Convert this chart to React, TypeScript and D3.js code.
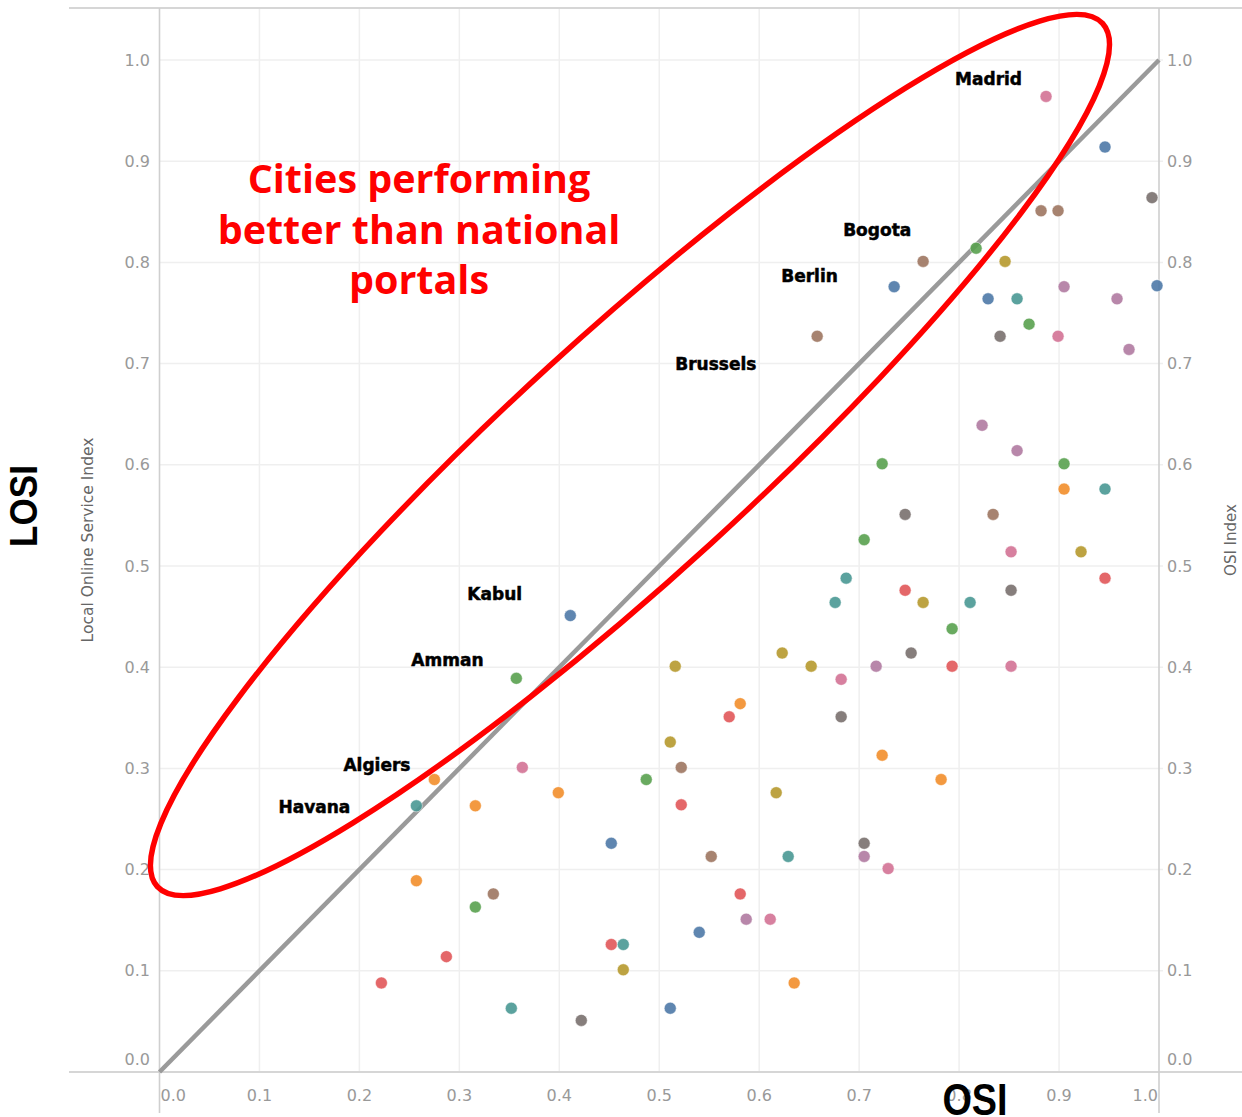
import React from "react";
import * as d3 from "d3";

// ---- data (OSI = x, LOSI = y) ----
const osiValues = [
  0.887, 0.946, 0.993, 0.882, 0.899, 0.817, 0.764, 0.846, 0.735, 0.829,
  0.858, 0.905, 0.958, 0.998, 0.870, 0.658, 0.841, 0.899, 0.970, 0.823,
  0.858, 0.723, 0.905, 0.905, 0.946, 0.746, 0.834, 0.705, 0.852, 0.922,
  0.687, 0.946, 0.411, 0.676, 0.746, 0.764, 0.811, 0.852, 0.793, 0.357,
  0.516, 0.623, 0.652, 0.717, 0.752, 0.793, 0.852, 0.682, 0.581, 0.570,
  0.682, 0.511, 0.723, 0.275, 0.363, 0.522, 0.487, 0.782, 0.399, 0.617,
  0.257, 0.316, 0.522, 0.452, 0.552, 0.629, 0.705, 0.705, 0.729, 0.257,
  0.334, 0.316, 0.581, 0.587, 0.611, 0.540, 0.452, 0.464, 0.287, 0.464,
  0.222, 0.635, 0.352, 0.511, 0.422,
];
const losiValues = [
  0.964, 0.914, 0.864, 0.851, 0.851, 0.814, 0.801, 0.801, 0.776, 0.764,
  0.764, 0.776, 0.764, 0.777, 0.739, 0.727, 0.727, 0.727, 0.714, 0.639,
  0.614, 0.601, 0.601, 0.576, 0.576, 0.551, 0.551, 0.526, 0.514, 0.514,
  0.488, 0.488, 0.451, 0.464, 0.476, 0.464, 0.464, 0.476, 0.438, 0.389,
  0.401, 0.414, 0.401, 0.401, 0.414, 0.401, 0.401, 0.388, 0.364, 0.351,
  0.351, 0.326, 0.313, 0.289, 0.301, 0.301, 0.289, 0.289, 0.276, 0.276,
  0.263, 0.263, 0.264, 0.226, 0.213, 0.213, 0.226, 0.213, 0.201, 0.189,
  0.176, 0.163, 0.176, 0.151, 0.151, 0.138, 0.126, 0.126, 0.114, 0.101,
  0.088, 0.088, 0.063, 0.063, 0.051,
];
const colorGroups = [
  "pink", "blue", "gray", "brown", "brown", "green", "brown", "olive", "blue", "blue",
  "teal", "purple", "purple", "blue", "green", "brown", "gray", "pink", "purple", "purple",
  "purple", "green", "green", "orange", "teal", "gray", "brown", "green", "pink", "olive",
  "teal", "red", "blue", "teal", "red", "olive", "teal", "gray", "green", "green",
  "olive", "olive", "olive", "purple", "gray", "red", "pink", "pink", "orange", "red",
  "gray", "olive", "orange", "orange", "pink", "brown", "green", "orange", "orange", "olive",
  "teal", "orange", "red", "blue", "brown", "teal", "gray", "purple", "pink", "orange",
  "brown", "green", "red", "purple", "pink", "blue", "red", "teal", "red", "olive",
  "red", "orange", "teal", "blue", "gray",
];
const groupNames = ["blue", "orange", "green", "olive", "teal", "red", "gray", "pink", "purple", "brown"];
const groupColors = ["#4e79a7", "#f28e2b", "#59a14f", "#b6992d", "#499894", "#e15759", "#79706e", "#d37295", "#b07aa1", "#9d7660"];

const tickValues = [0, 0.1, 0.2, 0.3, 0.4, 0.5, 0.6, 0.7, 0.8, 0.9, 1.0];

const cityNames = ["Madrid", "Bogota", "Berlin", "Brussels", "Kabul", "Amman", "Algiers", "Havana"];
const cityLabelOSI = [0.796, 0.684, 0.622, 0.516, 0.308, 0.252, 0.184, 0.119];
const cityLabelLOSI = [0.981, 0.832, 0.787, 0.700, 0.472, 0.407, 0.303, 0.262];

const calloutLines = ["Cities performing", "better than national", "portals"];

const W = 1242;
const H = 1117;

export default function App() {
  const x = d3.scaleLinear().domain([0, 1]).range([159.5, 1159]);
  const y = d3.scaleLinear().domain([0, 1]).range([1072, 60]);
  const color = d3.scaleOrdinal<string, string>().domain(groupNames).range(groupColors);
  const fmt = d3.format(".1f");
  const diag = d3.line<number>().x((d) => x(d)).y((d) => y(d));

  const points = osiValues.map((v, i) => ({ osi: v, losi: losiValues[i], g: colorGroups[i] }));

  const tickFont = "'DejaVu Sans', sans-serif";
  const ecx = x(0.4707);
  const ecy = y(0.6097);

  return (
    <svg
      width={W}
      height={H}
      style={{ position: "absolute", left: 0, top: 0, background: "#fff" }}
      xmlns="http://www.w3.org/2000/svg"
    >
      <rect x={0} y={0} width={W} height={H} fill="#fff" />
      {/* gridlines */}
      <g stroke="#efefef" strokeWidth={1.5}>
        {tickValues.filter((t) => t > 0 && t < 1).map((t) => (
          <line key={"gx" + t} x1={x(t)} x2={x(t)} y1={8} y2={y(0)} />
        ))}
        {tickValues.filter((t) => t > 0).map((t) => (
          <line key={"gy" + t} x1={x(0)} x2={x(1) + 4} y1={y(t)} y2={y(t)} />
        ))}
      </g>
      {/* frame lines */}
      <g stroke="#d6d6d6" strokeWidth={2}>
        <line x1={69} x2={W} y1={8} y2={8} />
        <line x1={69} x2={W} y1={y(0)} y2={y(0)} />
      </g>
      <g stroke="#cfcfcf" strokeWidth={1.6}>
        <line x1={x(0)} x2={x(0)} y1={8} y2={1113} />
        <line x1={x(1)} x2={x(1)} y1={8} y2={1113} />
      </g>

      {/* tick labels */}
      <g fill="#999" fontFamily={tickFont} fontSize={16}>
        {tickValues.map((t) => (
          <text key={"ly" + t} x={150} y={t === 0 ? y(0) - 13 : y(t)} textAnchor="end" dominantBaseline="central">
            {fmt(t)}
          </text>
        ))}
        {tickValues.map((t) => (
          <text key={"ry" + t} x={1167} y={t === 0 ? y(0) - 13 : y(t)} textAnchor="start" dominantBaseline="central">
            {fmt(t)}
          </text>
        ))}
        {tickValues.map((t) => (
          <text
            key={"bx" + t}
            x={t === 0 ? x(0) + 1 : t === 1 ? x(1) - 1 : x(t)}
            y={1095}
            textAnchor={t === 0 ? "start" : t === 1 ? "end" : "middle"}
            dominantBaseline="central"
          >
            {fmt(t)}
          </text>
        ))}
      </g>

      {/* axis titles */}
      <text
        transform={`translate(93,${540}) rotate(-90)`}
        textAnchor="middle"
        fontFamily={tickFont}
        fontSize={15.5}
        fill="#666"
      >
        Local Online Service Index
      </text>
      <text
        transform={`translate(1236,${540}) rotate(-90)`}
        textAnchor="middle"
        fontFamily={tickFont}
        fontSize={15}
        fill="#666"
      >
        OSI Index
      </text>

      {/* diagonal reference line */}
      <path d={diag([0, 1]) || ""} stroke="#9a9a9a" strokeWidth={4.5} fill="none" />

      {/* points */}
      <g>
        {points.map((p, i) => (
          <circle
            key={i}
            cx={x(p.osi)}
            cy={y(p.losi)}
            r={6}
            fill={color(p.g)}
            fillOpacity={0.9}
            stroke="#fff"
            strokeOpacity={0.6}
            strokeWidth={0.8}
          />
        ))}
      </g>

      {/* city labels */}
      <g fontFamily="'DejaVu Sans', sans-serif" fontWeight={700} fontSize={17} fill="#000">
        {cityNames.map((n, i) => (
          <text key={n} x={x(cityLabelOSI[i])} y={y(cityLabelLOSI[i])} dominantBaseline="central" stroke="#000" strokeWidth={0.5}>
            {n}
          </text>
        ))}
      </g>

      {/* red ellipse */}
      <ellipse
        cx={ecx}
        cy={ecy}
        rx={640}
        ry={120}
        transform={`rotate(-42.4 ${ecx} ${ecy})`}
        fill="none"
        stroke="#ff0000"
        strokeWidth={5.5}
      />

      {/* callout text */}
      <g fontFamily="'Open Sans', sans-serif" fontWeight={700} fontSize={39.5} fill="#ff0000" textAnchor="middle">
        {calloutLines.map((l, i) => (
          <text key={l} x={419} y={193 + i * 50.5}>
            {l}
          </text>
        ))}
      </g>

      {/* big axis labels */}
      <text
        transform={`translate(37,506) rotate(-90) scale(0.9,1)`}
        textAnchor="middle"
        fontFamily="'Liberation Sans', sans-serif"
        fontWeight={700}
        fontSize={39}
        fill="#000"
      >
        LOSI
      </text>
      <text
        transform={`translate(975,1115) scale(0.84,1)`}
        textAnchor="middle"
        fontFamily="'Liberation Sans', sans-serif"
        fontWeight={700}
        fontSize={45}
        fill="#000"
      >
        OSI
      </text>
    </svg>
  );
}
